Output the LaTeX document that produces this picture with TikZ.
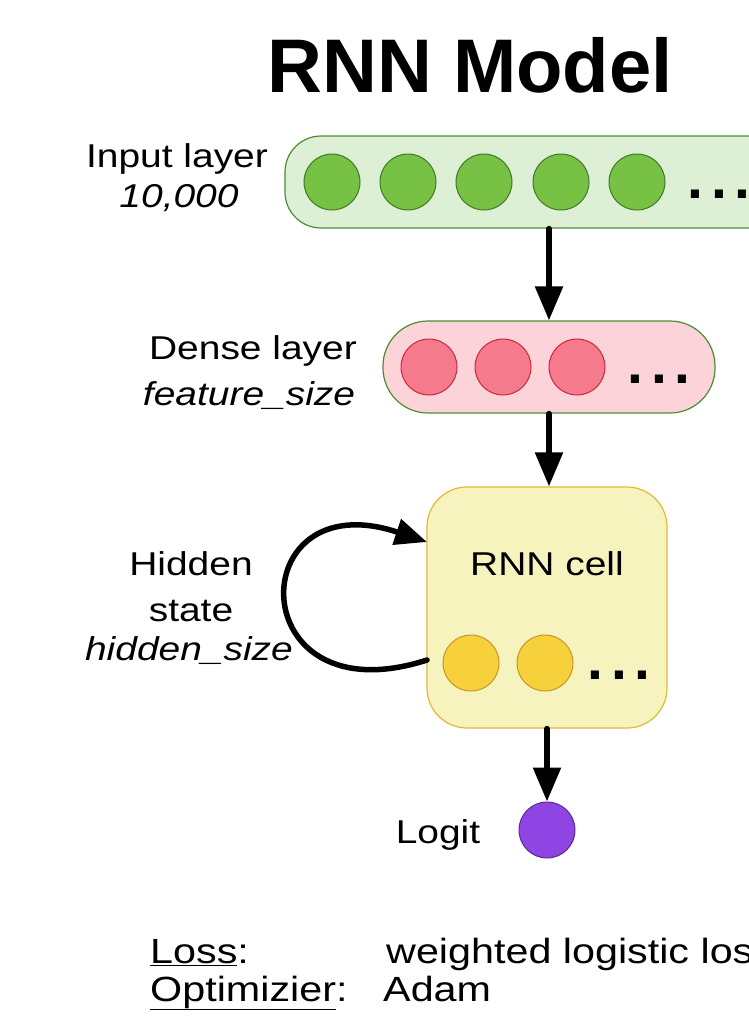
\documentclass[tikz,border=0pt]{standalone}
\usepackage{fontspec}
\setmainfont{Liberation Sans}
\newfontfamily\wideSans{Liberation Sans}[FakeStretch=1.18]
\usetikzlibrary{arrows.meta}

\definecolor{inputFill}{HTML}{DDEFD5}
\definecolor{inputEdge}{HTML}{4E8C32}
\definecolor{inputUnit}{HTML}{77C244}
\definecolor{inputUnitEdge}{HTML}{3F7A27}
\definecolor{denseFill}{HTML}{FDD3DA}
\definecolor{denseUnit}{HTML}{F57A8B}
\definecolor{denseUnitEdge}{HTML}{C9283D}
\definecolor{rnnFill}{HTML}{F7F3BE}
\definecolor{rnnEdge}{HTML}{E2B933}
\definecolor{rnnUnit}{HTML}{F6D13C}
\definecolor{rnnUnitEdge}{HTML}{C99528}
\definecolor{logitFill}{HTML}{8E45E3}
\definecolor{logitEdge}{HTML}{5B2B93}

\begin{document}
\begin{tikzpicture}[x=1pt,y=-1pt,
    layerBox/.style={rectangle,line width=1.2pt,inner sep=0pt},
    unitS/.style={circle,line width=1pt,minimum size=56pt,inner sep=0pt},
    layerLbl/.style={font=\wideSans\fontsize{33}{40}\selectfont,anchor=base,inner sep=0pt},
    sizeLbl/.style={font=\wideSans\itshape\fontsize{33}{40}\selectfont,anchor=base,inner sep=0pt},
    setupLbl/.style={font=\wideSans\fontsize{35}{40}\selectfont,anchor=base west,inner sep=0pt},
    moreDots/.style={font=\bfseries\fontsize{57}{60}\selectfont,anchor=base west,inner sep=0pt},
    flowArrow/.style={-{Triangle[length=34pt,width=27pt]},line width=5.5pt,line cap=round},
]
\useasboundingbox (0,0) rectangle (748,1020);

% title
\node[font=\bfseries\fontsize{76}{80}\selectfont,anchor=base,inner sep=0pt] (title) at (470,92) {RNN Model};

% input layer
\node[layerBox,draw=inputEdge,fill=inputFill,minimum width=515pt,minimum height=92pt,rounded corners=36pt] (inputLayer) at (542.5,182) {};
\node[unitS,draw=inputUnitEdge,fill=inputUnit] (in1) at (332,182) {};
\node[unitS,draw=inputUnitEdge,fill=inputUnit] (in2) at (408,182) {};
\node[unitS,draw=inputUnitEdge,fill=inputUnit] (in3) at (484,182) {};
\node[unitS,draw=inputUnitEdge,fill=inputUnit] (in4) at (561,182) {};
\node[unitS,draw=inputUnitEdge,fill=inputUnit] (in5) at (637,182) {};
\node[moreDots] (inDots) at (687,198) {.\hspace{8pt}.\hspace{8pt}.};
\node[layerLbl] (inputLbl) at (177,167) {Input layer};
\node[sizeLbl] (inputSize) at (179,207) {10,000};

% dense layer
\node[layerBox,draw=inputEdge,fill=denseFill,minimum width=332pt,minimum height=92pt,rounded corners=45pt] (denseLayer) at (549,367) {};
\node[unitS,draw=denseUnitEdge,fill=denseUnit] (dn1) at (429,367) {};
\node[unitS,draw=denseUnitEdge,fill=denseUnit] (dn2) at (503,367) {};
\node[unitS,draw=denseUnitEdge,fill=denseUnit] (dn3) at (577,367) {};
\node[moreDots] (dnDots) at (627,383) {.\hspace{8pt}.\hspace{8pt}.};
\node[layerLbl] (denseLbl) at (253,359) {Dense layer};
\node[sizeLbl] (denseSize) at (249,405) {feature\_size};

% rnn cell
\node[layerBox,draw=rnnEdge,fill=rnnFill,minimum width=240pt,minimum height=241pt,rounded corners=40pt] (rnnCell) at (547,607.5) {};
\node[layerLbl] (rnnLbl) at (547,575) {RNN cell};
\node[unitS,draw=rnnUnitEdge,fill=rnnUnit] (hid1) at (471,663) {};
\node[unitS,draw=rnnUnitEdge,fill=rnnUnit] (hid2) at (545,663) {};
\node[moreDots] (hidDots) at (587,679) {.\hspace{8pt}.\hspace{8pt}.};
\node[layerLbl] (hiddenLbl) at (191,575) {Hidden};
\node[layerLbl] (stateLbl) at (191,621) {state};
\node[sizeLbl] (hiddenSize) at (189,660) {hidden\_size};

% output
\node[unitS,draw=logitEdge,fill=logitFill] (logit) at (547,830) {};
\node[layerLbl] (logitLbl) at (438,843) {Logit};

% arrows
\coordinate (loopOut) at (427,660);
\coordinate (loopIn) at (427,542);
\draw[flowArrow] (inputLayer.south -| denseLayer.north) -- (denseLayer.north);
\draw[flowArrow] (denseLayer.south) -- (denseLayer.south |- rnnCell.north);
\draw[flowArrow] (rnnCell.south) -- (logit.north);
\draw[-{Triangle[length=32pt,width=26pt]},line width=5.5pt,line cap=round] (loopOut) .. controls (241,720) and (241,480) .. (loopIn);

% training setup
\node[setupLbl] (lossKey) at (150,963) {\underline{Loss}:};
\node[setupLbl] (lossVal) at (386,963) {weighted logistic loss};
\node[setupLbl] (optKey) at (150,1001) {\underline{Optimizier}:};
\node[setupLbl] (optVal) at (383,1001) {Adam};
\end{tikzpicture}
\end{document}
